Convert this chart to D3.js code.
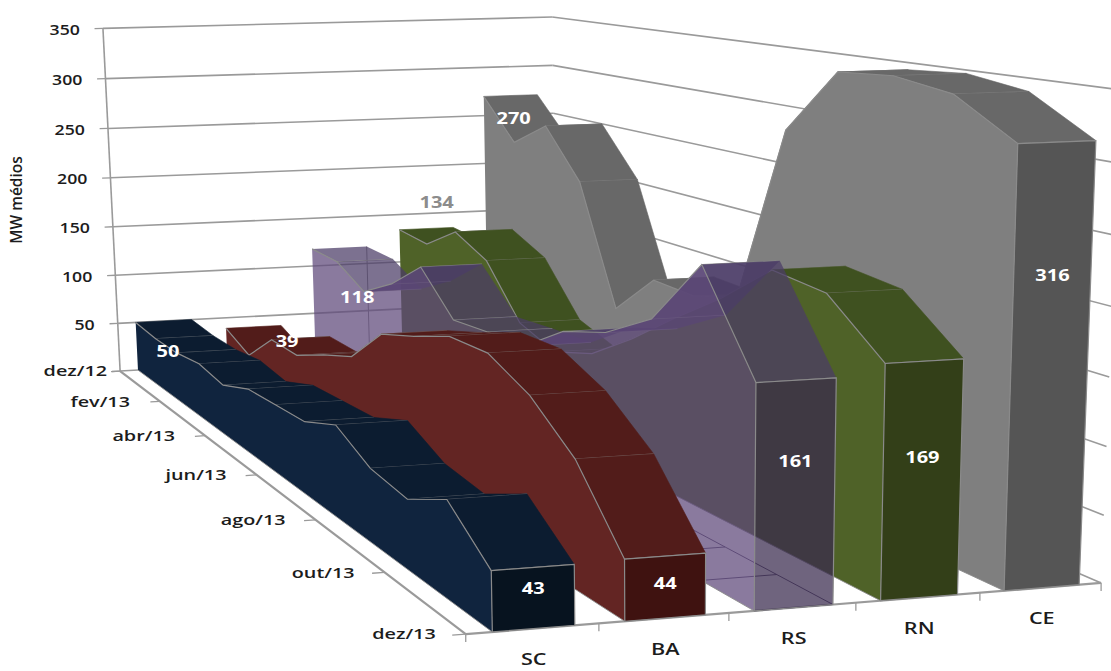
<!DOCTYPE html>
<html lang="pt-BR">
<head>
<meta charset="utf-8">
<title>MW médios</title>
<script src="https://cdn.jsdelivr.net/npm/d3@7"></script>
<style>
  html, body { margin: 0; padding: 0; background: #fff; }
  svg { display: block; }
  text { font-family: "Open Sans", "Noto Sans", sans-serif; }
</style>
</head>
<body>
<svg id="chart" width="1111" height="671"></svg>
<script>
// Monthly generation per state, average MW
const months = ["dez/12","jan/13","fev/13","mar/13","abr/13","mai/13","jun/13","jul/13","ago/13","set/13","out/13","nov/13","dez/13"];
const monthTicks = ["dez/12","fev/13","abr/13","jun/13","ago/13","out/13","dez/13"];
const states = ["SC","BA","RS","RN","CE"];
const valueTicks = [0,50,100,150,200,250,300,350];

const SC = [50,47,47,51,46,58,60,62,76,59,54,73,43];
const BA = [39,25,55,54,69,82,116,128,142,143,126,96,44];
const RS = [118,116,98,118,146,110,113,115,141,154,178,230,161];
const RN = [134,130,153,136,89,76,89,116,147,176,210,205,169];
const CE = [270,230,254,208,98,137,135,148,295,347,350,343,316];

// Scales into the unit cube of the plot box: u across states, t along time, v up
const uScale = d3.scaleBand().domain(states).range([0,1]).paddingInner(0.38).paddingOuter(0.19).align(0.52);
const tScale = d3.scalePoint().domain(months).range([0,1]);
const vScale = d3.scaleLinear().domain([0,350]).range([0,1]);

// Screen position of the box corners, [u,t,v,x,y]; the camera is solved from them
const boxCorners = [
  [0,0,0,120,371],[1,0,0,555,349],[0,1,0,465,633],[1,1,0,1103,581],
  [0,0,1,104,19],[1,0,1,552,24],[0,1,1,455,128],[1,1,1,1120,78]
];

function solveCamera(corners) {
  const rows = [], rhs = [];
  corners.forEach(([u,t,v,x,y]) => {
    rows.push([1,u,t,v,0,0,0,0,-x*u,-x*t,-x*v]); rhs.push(x);
    rows.push([0,0,0,0,1,u,t,v,-y*u,-y*t,-y*v]); rhs.push(y);
  });
  const n = 11;
  const A = d3.range(n).map(i => d3.range(n + 1).map(j =>
    d3.sum(rows, (r, k) => r[i] * (j < n ? r[j] : rhs[k]))));
  for (let c = 0; c < n; c++) {
    let p = c;
    for (let r = c + 1; r < n; r++) if (Math.abs(A[r][c]) > Math.abs(A[p][c])) p = r;
    [A[c], A[p]] = [A[p], A[c]];
    for (let r = 0; r < n; r++) {
      if (r === c) continue;
      const f = A[r][c] / A[c][c];
      for (let j = c; j <= n; j++) A[r][j] -= f * A[c][j];
    }
  }
  return d3.range(n).map(i => A[i][n] / A[i][i]);
}
const cam = solveCamera(boxCorners);
function project(u, t, v) {
  const w = 1 + cam[8]*u + cam[9]*t + cam[10]*v;
  return [(cam[0] + cam[1]*u + cam[2]*t + cam[3]*v) / w,
          (cam[4] + cam[5]*u + cam[6]*t + cam[7]*v) / w];
}

const svg = d3.select("#chart");
const gridColor = "#9a9a9a";
const edgeColor = "#8a8a8a";

const poly = pts => d3.line()(pts);
function segment(g, a, b, color, width) {
  g.append("path").attr("d", poly([a, b])).attr("fill", "none")
    .attr("stroke", color).attr("stroke-width", width);
}

// Walls, floor edges and ticks
const frame = svg.append("g");
valueTicks.forEach(d => {
  const v = vScale(d);
  segment(frame, project(0,0,v), project(1,0,v), gridColor, 1.6);
  segment(frame, project(1,0,v), project(1,1,v), gridColor, 1.6);
  segment(frame, project(-0.018,0,v), project(0,0,v), gridColor, 1.3);
});
segment(frame, project(0,0,0), project(0,0,1), gridColor, 1.6);
segment(frame, project(0,0,0), project(0,1,0), gridColor, 2.2);
segment(frame, project(0,1,0), project(1,1,0), gridColor, 2.2);
monthTicks.forEach(m => segment(frame, project(-0.02,tScale(m),0), project(0,tScale(m),0), gridColor, 1.3));
d3.range(states.length + 1).forEach(i => {
  const [x, y] = project(i / states.length, 1, 0);
  segment(frame, [x, y], [x, y + 8], gridColor, 1.3);
});

// Face colours of each state: profile side, top surface, closing end
const seriesStyle = [
  {name:"CE", values:CE, side:"#7f7f7f", top:"#686868", end:"#555555", alpha:1},
  {name:"RN", values:RN, side:"#4f6228", top:"#3f5120", end:"#333f18", alpha:1},
  {name:"RS", values:RS, side:"#5f497a", top:"#4b3c67", end:"#392b4e", alpha:0.73},
  {name:"BA", values:BA, side:"#632523", top:"#521c1a", end:"#3f1210", alpha:1},
  {name:"SC", values:SC, side:"#10243e", top:"#0c1c30", end:"#07131f", alpha:1}
];

const sideArea = d3.area()
  .x0(d => d.floor[0]).y0(d => d.floor[1])
  .x1(d => d.top[0]).y1(d => d.top[1]);

seriesStyle.forEach(s => {
  const g = svg.append("g").attr("class", "series-" + s.name).attr("fill-opacity", s.alpha);
  const u0 = uScale(s.name), u1 = u0 + uScale.bandwidth();
  const pts = months.map((m, i) => {
    const t = tScale(m), v = vScale(s.values[i]);
    return { t, v,
      floor: project(u0,t,0), top: project(u0,t,v),
      floorR: project(u1,t,0), topR: project(u1,t,v) };
  });
  const last = pts[pts.length - 1];

  // Hidden edges stay visible through the translucent body
  if (s.alpha < 1) {
    const hidden = "#4a4060";
    pts.forEach((p, i) => {
      segment(g, p.floor, p.floorR, hidden, 0.9);
      if (i) segment(g, pts[i-1].floorR, p.floorR, hidden, 0.9);
    });
    segment(g, pts[0].floorR, pts[0].topR, edgeColor, 1);
  }

  // Top surface, back to front
  pts.slice(1).forEach((p, i) => {
    const q = pts[i];
    g.append("path").attr("d", poly([q.top, q.topR, p.topR, p.top]) + "Z")
      .attr("fill", s.top).attr("stroke", s.alpha < 1 ? "none" : s.top).attr("stroke-width", 0.6);
    segment(g, p.top, p.topR, edgeColor, 0.9);
  });

  // Profile side
  g.append("path").attr("d", sideArea(pts)).attr("fill", s.side);
  g.append("path").attr("d", poly(pts.map(d => d.top))).attr("fill", "none")
    .attr("stroke", edgeColor).attr("stroke-width", 1.2);
  g.append("path").attr("d", poly(pts.map(d => d.floor))).attr("fill", "none")
    .attr("stroke", edgeColor).attr("stroke-width", 0.9);

  // Closing end at the last month
  g.append("path").attr("d", poly([last.floor, last.floorR, last.topR, last.top]) + "Z")
    .attr("fill", s.end).attr("stroke", edgeColor).attr("stroke-width", 1.2);
});

// Text in this report runs wide, so every label is stretched along its baseline
function wideText(parent, x, y, size, stretch, anchor, label) {
  return parent.append("text")
    .attr("transform", `translate(${x},${y}) scale(${stretch},1)`)
    .attr("dy", "0.35em").attr("text-anchor", anchor)
    .attr("font-size", size).text(label);
}

const labels = svg.append("g").attr("fill", "#1c1c1c").attr("font-weight", 600);
valueTicks.filter(d => d > 0).forEach(d => {
  const [x, y] = project(0,0,vScale(d));
  wideText(labels, x - 23, y + 1, 15, 1.18, "end", d);
});
monthTicks.forEach(m => {
  const [x, y] = project(0,tScale(m),0);
  wideText(labels, x - (m === "dez/12" ? 13 : 30), y, 15, 1.32, "end", m);
});
states.forEach(s => {
  const [x, y] = project(uScale(s) + uScale.bandwidth() / 2, 1, 0);
  wideText(labels, x, y + 31, 16, 1.35, "middle", s);
});
labels.append("text").attr("transform", "translate(22,200) rotate(-90)")
  .attr("text-anchor", "middle").attr("font-size", 15.5).text("MW médios");

// Value labels of the first and last months; height is given as a share of the value
const firstLabelPlace = { SC:[0.55,0.36], BA:[1.1,0.55], RS:[0.8,0.55], RN:[0.7,1.2], CE:[0.55,0.91] };
const lastLabelPlace = { SC:[0.5,0.66], BA:[0.5,0.56], RS:[0.5,0.65], RN:[0.5,0.6], CE:[0.5,0.71] };
function valueLabel(state, value, t, place, color) {
  const [x, y] = project(uScale(state) + uScale.bandwidth() * place[0], t, vScale(value * place[1]));
  wideText(svg, x, y, 16, 1.25, "middle", value)
    .attr("font-weight", 700).attr("fill", color);
}
seriesStyle.forEach(s => {
  valueLabel(s.name, s.values[0], 0, firstLabelPlace[s.name], s.name === "RN" ? "#8c8c8c" : "#ffffff");
  valueLabel(s.name, s.values[12], 1, lastLabelPlace[s.name], "#ffffff");
});
</script>
</body>
</html>
